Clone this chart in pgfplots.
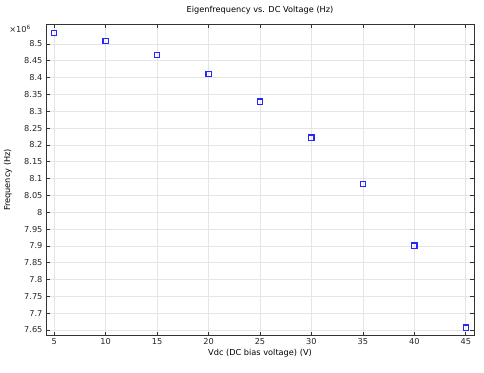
\documentclass[border=0pt]{standalone}
\usepackage{pgfplots}
\pgfplotsset{compat=1.18}
\usepackage{fontspec}
\setmainfont{DejaVu Sans}
\begin{document}
\begin{tikzpicture}
\begin{axis}[
  scale only axis,
  width=428pt, height=311.4pt,
  xmin=4.2, xmax=45.8,
  ymin=7.633, ymax=8.5585,
  clip=false,
  xtick={5,10,...,45},
  ytick={7.65,7.7,...,8.51},
  yticklabel style={/pgf/number format/fixed},
  /pgf/number format/assume math mode=true,
  tick label style={font=\fontsize{8.2}{9}\selectfont, text=black!85},
  label style={font=\fontsize{8.2}{9}\selectfont},
  title style={font=\fontsize{8.2}{9}\selectfont, at={(axis description cs:0.5,1.0267)}, anchor=center},
  title={Eigenfrequency vs. DC Voltage (Hz)},
  xlabel={Vdc (DC bias voltage) (V)},
  ylabel={Frequency (Hz)},
  xlabel style={at={(axis description cs:0.5,-0.0556)}, anchor=center},
  ylabel style={at={(axis description cs:-0.0888,0.5)}, anchor=center},
  grid=major,
  major grid style={gray!20, line width=0.6pt},
  axis line style={black!80, line width=0.8pt},
  tick style={black!80, line width=0.6pt},
  tick align=inside,
  major tick length=4pt,
  xtick pos=both, ytick pos=both,
  xticklabel style={yshift=1pt},
]
\addplot[only marks, mark=square, mark size=2.6pt, draw=blue!85!white, line width=1.2pt]
  coordinates {
  (5,8.5327) (10,8.5090) (15,8.4680) (20,8.4100) (25,8.3290)
  (30,8.2216) (35,8.0840) (40,7.9006) (45,7.6570)
  };
\node[anchor=center, font=\fontsize{8.2}{9}\selectfont, inner sep=0pt, text=black!85] at (axis description cs:-0.0607,0.985) {×10\textsuperscript{6}};
\end{axis}
\pgfresetboundingbox
\path (-46pt,-36.3pt) rectangle (438pt,335.7pt);
\end{tikzpicture}
\end{document}
